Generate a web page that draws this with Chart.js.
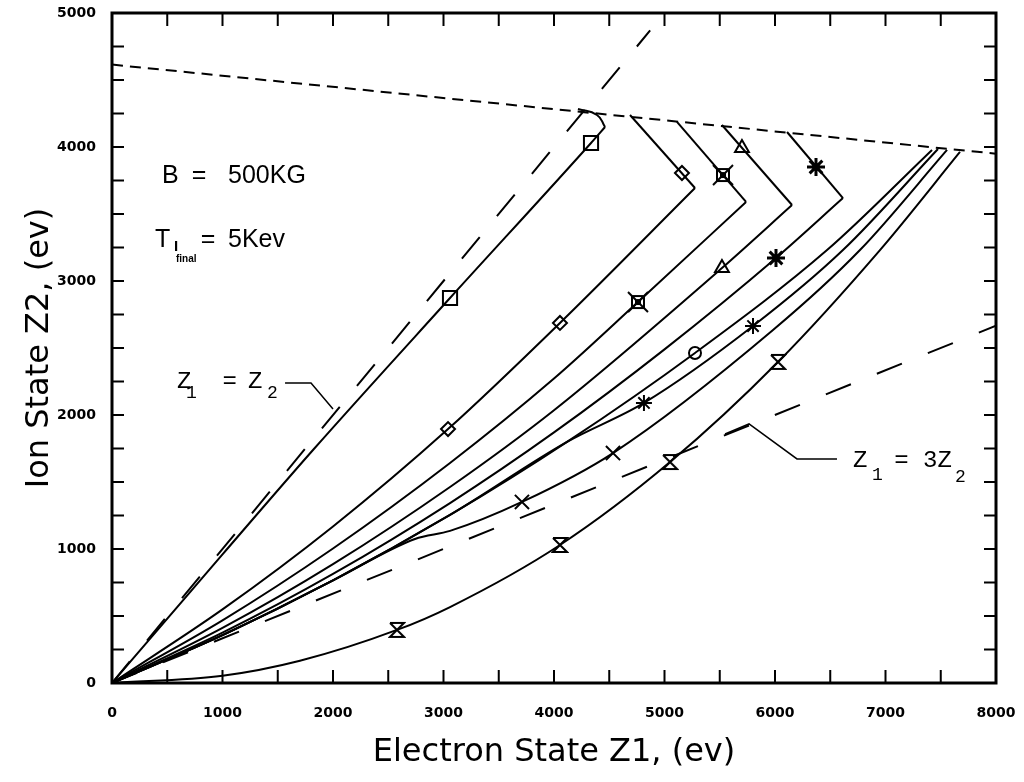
<!DOCTYPE html>
<html>
<head>
<meta charset="utf-8">
<title>Ion State vs Electron State</title>
<script src="https://cdn.jsdelivr.net/npm/chart.js@4.4.1/dist/chart.umd.min.js"></script>
<style>
  html, body { margin: 0; padding: 0; background: #fff; }
  #wrap { width: 1024px; height: 782px; }
</style>
</head>
<body>
<div id="wrap"><canvas id="stateChart" width="1024" height="782"></canvas></div>
<script>
// axis ranges and labelled ticks
const xMax = 8000;
const yMax = 5000;
const xTickLabels = ['0', '1000', '2000', '3000', '4000', '5000', '6000', '7000', '8000'];
const yTickLabels = ['0', '1000', '2000', '3000', '4000', '5000'];

// square curve, with the rounded hook at the top
const squareX = [0, 1000, 1819, 3059, 4335, 4462];
const squareY = [0, 960, 1739, 2873, 4030, 4149];
const squareHookX = [4462, 4389, 4217];
const squareHookY = [4149, 4239, 4284];
const squareMarkX = [3059, 4335];
const squareMarkY = [2873, 4030];

// diamond curve: rise to the turning point, then back to the limit line
const diamondX = [0, 1000, 2000, 3041, 4054, 5276];
const diamondY = [0, 549, 1168, 1895, 2687, 3694];
const diamondBackX = [5276, 4688];
const diamondBackY = [3694, 4239];
const diamondMarkX = [3041, 4054, 5158];
const diamondMarkY = [1895, 2687, 3806];

// boxed-cross curve
const boxX = [0, 1000, 2000, 3059, 4000, 4760, 5738];
const boxY = [0, 468, 1004, 1642, 2272, 2843, 3590];
const boxBackX = [5738, 5113];
const boxBackY = [3590, 4187];
const boxMarkX = [4760, 5529];
const boxMarkY = [2843, 3791];

// triangle curve
const triX = [0, 1000, 2000, 3059, 4000, 5520, 6154];
const triY = [0, 411, 887, 1463, 2036, 3097, 3567];
const triBackX = [6154, 5520];
const triBackY = [3567, 4164];
const triMarkX = [5520, 5701];
const triMarkY = [3097, 3993];

// asterisk curve
const astX = [0, 1000, 2000, 3059, 4000, 5000, 6009, 6615];
const astY = [0, 376, 814, 1343, 1870, 2490, 3172, 3619];
const astBackX = [6615, 6109];
const astBackY = [3619, 4112];
const astMarkX = [6009, 6371];
const astMarkY = [3172, 3851];

// the four curves that run straight up to the limit line
const circX = [0, 1000, 2000, 3059, 4118, 5276, 6471, 7421];
const circY = [0, 357, 766, 1254, 1799, 2463, 3231, 3978];
const circMarkX = [5276];
const circMarkY = [2463];

const plusX = [0, 1000, 2000, 3059, 4118, 4814, 5801, 6615, 7475];
const plusY = [0, 357, 766, 1254, 1799, 2090, 2664, 3231, 3985];
const plusMarkX = [4814, 5801];
const plusMarkY = [2090, 2664];

const crossX = [0, 1000, 2000, 2742, 3059, 3710, 4534, 5982, 6769, 7557];
const crossY = [0, 357, 766, 1075, 1135, 1351, 1716, 2634, 3231, 3978];
const crossMarkX = [3710, 4534];
const crossMarkY = [1351, 1716];

const glassX = [0, 1000, 1701, 2579, 3059, 4054, 5050, 6027, 6950, 7674];
const glassY = [0, 54, 166, 396, 567, 1030, 1649, 2396, 3231, 3963];
const glassMarkX = [2579, 4054, 5050, 6027];
const glassMarkY = [396, 1030, 1649, 2396];

// reference lines
const equalX = [0, 4870];
const equalY = [0, 4870];
const thirdX = [0, 8000];
const thirdY = [0, 2667];
const limitX = [0, 8000];
const limitY = [4615, 3950];

const pts = (xs, ys) => xs.map((x, i) => ({ x: x, y: ys[i] }));

function curve(xs, ys, extra) {
  return Object.assign({
    data: pts(xs, ys),
    showLine: true,
    borderColor: '#000',
    borderWidth: 2,
    pointRadius: 0,
    cubicInterpolationMode: 'monotone',
    fill: false
  }, extra || {});
}

function straight(xs, ys, extra) {
  return curve(xs, ys, Object.assign({ cubicInterpolationMode: 'default', tension: 0 }, extra || {}));
}

function marks(xs, ys, style, radius, width) {
  return {
    data: pts(xs, ys),
    showLine: false,
    pointStyle: style,
    pointRadius: radius,
    pointBorderColor: '#000',
    pointBackgroundColor: 'rgba(0,0,0,0)',
    pointBorderWidth: width
  };
}

// hourglass symbol
function hourglassIcon() {
  const c = document.createElement('canvas');
  c.width = 18; c.height = 18;
  const g = c.getContext('2d');
  g.strokeStyle = '#000';
  g.lineWidth = 2;
  g.beginPath();
  g.moveTo(2, 2); g.lineTo(16, 2);
  g.lineTo(2, 16); g.lineTo(16, 16);
  g.lineTo(2, 2);
  g.stroke();
  return c;
}

// boxed square crossed by an X
function boxCrossIcon() {
  const c = document.createElement('canvas');
  c.width = 22; c.height = 22;
  const g = c.getContext('2d');
  g.fillStyle = '#000';
  g.strokeStyle = '#000';
  g.lineWidth = 2;
  g.strokeRect(5, 5, 12, 12);
  g.fillRect(8, 8, 6, 6);
  g.beginPath();
  g.moveTo(1, 1); g.lineTo(21, 21);
  g.moveTo(21, 1); g.lineTo(1, 21);
  g.stroke();
  return c;
}

const frameAndNotes = {
  id: 'frameAndNotes',
  afterDraw(chart) {
    const ctx = chart.ctx;
    const xs = chart.scales.x, ys = chart.scales.y;
    const a = chart.chartArea;
    const px = v => xs.getPixelForValue(v);
    const py = v => ys.getPixelForValue(v);
    ctx.save();
    ctx.strokeStyle = '#000';
    ctx.fillStyle = '#000';

    // inward tick marks on all four sides
    ctx.lineWidth = 2;
    ctx.beginPath();
    xs.ticks.forEach(t => {
      if (t.value <= 0 || t.value >= xMax) return;
      const x = px(t.value);
      ctx.moveTo(x, a.bottom); ctx.lineTo(x, a.bottom - 13);
      ctx.moveTo(x, a.top); ctx.lineTo(x, a.top + 13);
    });
    ys.ticks.forEach(t => {
      if (t.value <= 0 || t.value >= yMax) return;
      const y = py(t.value);
      ctx.moveTo(a.left, y); ctx.lineTo(a.left + 12, y);
      ctx.moveTo(a.right, y); ctx.lineTo(a.right - 12, y);
    });
    ctx.stroke();

    // frame
    ctx.lineWidth = 3;
    ctx.strokeRect(a.left, a.top, a.right - a.left, a.bottom - a.top);

    // parameter notes
    ctx.textBaseline = 'alphabetic';
    ctx.font = '25px "Liberation Sans", Arial, sans-serif';
    ctx.textAlign = 'left';
    ctx.fillText('B', px(452), py(3731));
    ctx.fillText('500KG', px(1050), py(3731));
    ctx.fillText('T', px(390), py(3254));
    ctx.fillText('5Kev', px(1050), py(3254));
    ctx.textAlign = 'center';
    ctx.fillText('=', px(787), py(3731));
    ctx.fillText('=', px(869), py(3254));
    ctx.textAlign = 'left';
    ctx.font = 'bold 15px "Liberation Sans", Arial, sans-serif';
    ctx.fillText('I', px(561), py(3224));
    ctx.font = 'bold 10px "Liberation Sans", Arial, sans-serif';
    ctx.fillText('final', px(579), py(3142));

    // line labels
    ctx.font = '24px "Liberation Mono", "Courier New", monospace';
    ctx.fillText('Z', px(588), py(2201));
    ctx.fillText('=', px(1000), py(2201));
    ctx.fillText('Z', px(1231), py(2201));
    ctx.fillText('Z', px(6706), py(1612));
    ctx.fillText('=', px(7080), py(1612));
    ctx.fillText('3Z', px(7340), py(1612));
    ctx.font = '18px "Liberation Mono", "Courier New", monospace';
    ctx.fillText('1', px(670), py(2127));
    ctx.fillText('2', px(1403), py(2127));
    ctx.fillText('1', px(6878), py(1515));
    ctx.fillText('2', px(7629), py(1500));

    // leaders
    ctx.lineWidth = 1.5;
    ctx.beginPath();
    ctx.moveTo(px(1566), py(2239));
    ctx.lineTo(px(1801), py(2239));
    ctx.lineTo(px(2000), py(2045));
    ctx.moveTo(px(5548), py(1858));
    ctx.lineTo(px(5765), py(1933));
    ctx.lineTo(px(6199), py(1672));
    ctx.lineTo(px(6561), py(1672));
    ctx.stroke();
    ctx.restore();
  }
};

const tickFont = { family: '"DejaVu Sans", sans-serif', size: 14, weight: 'bold' };
const titleFont = { family: '"DejaVu Sans", sans-serif', size: 32, weight: 'normal' };

new Chart(document.getElementById('stateChart'), {
  type: 'scatter',
  data: {
    datasets: [
      straight(limitX, limitY, { borderDash: [11, 7] }),
      straight(equalX, equalY, { borderDash: [28, 27] }),
      straight(thirdX, thirdY, { borderDash: [27, 28] }),

      curve(squareX, squareY),
      curve(squareHookX, squareHookY, { cubicInterpolationMode: 'default', tension: 0.5 }),
      curve(diamondX, diamondY),
      straight(diamondBackX, diamondBackY),
      curve(boxX, boxY),
      straight(boxBackX, boxBackY),
      curve(triX, triY),
      straight(triBackX, triBackY),
      curve(astX, astY),
      straight(astBackX, astBackY),
      curve(circX, circY),
      curve(plusX, plusY),
      curve(crossX, crossY),
      curve(glassX, glassY),

      marks(squareMarkX, squareMarkY, 'rect', 10, 2),
      marks(diamondMarkX, diamondMarkY, 'rectRot', 7, 2),
      marks(boxMarkX, boxMarkY, boxCrossIcon(), 10, 2),
      marks(triMarkX, triMarkY, 'triangle', 8, 2),
      marks(astMarkX, astMarkY, 'star', 9, 3),
      marks(circMarkX, circMarkY, 'circle', 6, 2),
      marks(plusMarkX, plusMarkY, 'star', 8, 2),
      marks(crossMarkX, crossMarkY, 'crossRot', 10, 2),
      marks(glassMarkX, glassMarkY, hourglassIcon(), 9, 2)
    ]
  },
  options: {
    responsive: false,
    animation: false,
    devicePixelRatio: 1,
    events: [],
    layout: { padding: { top: 13, right: 28, left: 0, bottom: 0 } },
    plugins: { legend: { display: false }, tooltip: { enabled: false } },
    scales: {
      x: {
        type: 'linear',
        min: 0,
        max: xMax,
        grid: { display: false, drawTicks: false },
        border: { display: false },
        ticks: {
          stepSize: 500,
          autoSkip: false,
          maxRotation: 0,
          padding: 22,
          color: '#000',
          font: tickFont,
          callback: v => xTickLabels.includes(String(v)) ? String(v) : ''
        },
        title: {
          display: true,
          text: 'Electron State Z1, (ev)',
          color: '#000',
          font: titleFont,
          padding: { top: 0, bottom: 10 }
        },
        afterFit(s) { s.height = 99; s.paddingLeft = 0; s.paddingRight = 0; }
      },
      y: {
        type: 'linear',
        min: 0,
        max: yMax,
        grid: { display: false, drawTicks: false },
        border: { display: false },
        ticks: {
          stepSize: 250,
          autoSkip: false,
          padding: 16,
          color: '#000',
          font: tickFont,
          callback: v => yTickLabels.includes(String(v)) ? String(v) : ''
        },
        title: {
          display: true,
          text: 'Ion State Z2, (ev)',
          color: '#000',
          font: titleFont,
          padding: { top: 20, bottom: 0 }
        },
        afterFit(s) { s.width = 112; s.paddingTop = 0; s.paddingBottom = 0; }
      }
    }
  },
  plugins: [frameAndNotes]
});
</script>
</body>
</html>
